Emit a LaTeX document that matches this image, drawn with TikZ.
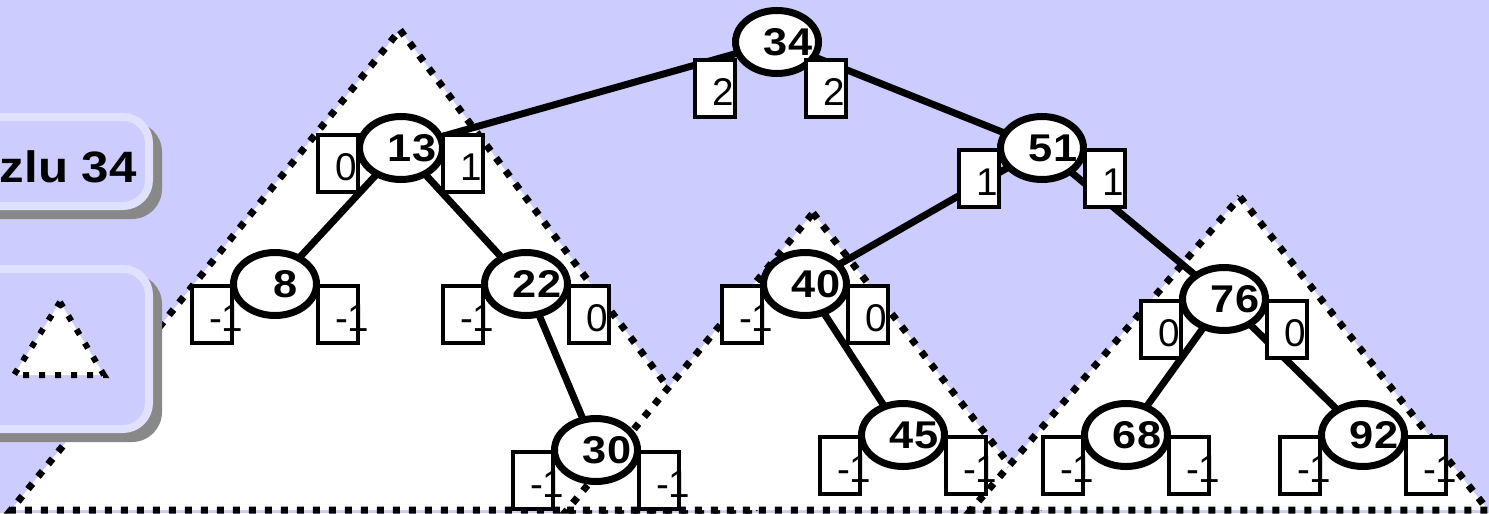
\documentclass[tikz,border=0pt]{standalone}
\usepackage{fontspec}
\setmainfont{Liberation Sans}
\newfontfamily\widesans{Liberation Sans}[FakeStretch=1.12]
\usetikzlibrary{shapes.geometric}

\definecolor{lavender}{HTML}{CCCCFF}
\definecolor{paneledge}{HTML}{E0E0FF}
\definecolor{shadowgray}{HTML}{888888}

\newcommand\keyfont{\widesans\bfseries\fontsize{22pt}{26pt}\selectfont}
\newcommand\balfont{\fontsize{22pt}{26pt}\selectfont}
\newcommand\panelfont{\widesans\bfseries\fontsize{25pt}{30pt}\selectfont}
\newcommand\keytext[1]{\makebox[0pt]{\hspace*{4.4mm}#1}}
\newcommand\baltext[1]{\makebox[8mm][l]{\hspace*{3.4mm}#1}}

\pgfdeclarelayer{background}
\pgfsetlayers{background,main}

\begin{document}
\begin{tikzpicture}[
    x=0.2mm, y=-0.2mm,
    key/.style={ellipse, draw, line width=1.4mm, fill=white, minimum width=16.6mm, minimum height=12.6mm, inner sep=0pt, font=\keyfont},
    balbox/.style={draw, line width=0.8mm, fill=white, minimum width=8mm, minimum height=11.4mm, inner sep=0pt, text height=9.2mm, text depth=2.2mm, font=\balfont},
    link/.style={line width=1.4mm},
    subtree/.style={draw, fill=white, line width=1.4mm, dash pattern=on 1.4mm off 1.8mm},
    minitree/.style={subtree, line width=1.2mm, dash pattern=on 1.2mm off 2mm},
    panel/.style={draw=paneledge, fill=lavender, line width=1.6mm, rounded corners=5.2mm},
    panelshadow/.style={fill=shadowgray, rounded corners=6mm}
]
\useasboundingbox (0,0) rectangle (1489,513);

% Keys of the tree
\node[key] (n34) at (777,42) {\keytext{34}};
\node[key] (n13) at (401,148) {\keytext{13}};
\node[key] (n51) at (1042,148) {\keytext{51}};
\node[key] (n8) at (275,284) {\keytext{8}};
\node[key] (n22) at (526,284) {\keytext{22}};
\node[key] (n40) at (805,284) {\keytext{40}};
\node[key] (n30) at (596,450) {\keytext{30}};
\node[key] (n45) at (903,435) {\keytext{45}};
\node[key] (n76) at (1224,299) {\keytext{76}};
\node[key] (n68) at (1126,435) {\keytext{68}};
\node[key] (n92) at (1363,435) {\keytext{92}};

% Balance boxes
\node[balbox] (b34l) at ([shift={(-62,46)}]n34) {\baltext{2}};
\node[balbox] (b34r) at ([shift={(49,46)}]n34) {\baltext{2}};
\node[balbox] (b13l) at ([shift={(-63,15)}]n13) {\baltext{0}};
\node[balbox] (b13r) at ([shift={(62,15)}]n13) {\baltext{1}};
\foreach \k/\l/\r in {51/1/1, 8/-1/-1, 22/-1/0, 40/-1/0, 30/-1/-1, 45/-1/-1, 76/0/0, 68/-1/-1, 92/-1/-1} {
    \node[balbox] (b\k l) at ([shift={(-63,30)}]n\k) {\baltext{\l}};
    \node[balbox] (b\k r) at ([shift={(63,30)}]n\k) {\baltext{\r}};
}

% Side panels
\node[font=\panelfont, anchor=base east, inner sep=0pt] (title) at (137,182) {zlu 34};

\begin{pgfonlayer}{background}
\fill[lavender] (0,0) rectangle (1489,513);

% Subtrees
\draw[subtree] (400,30) -- (760,510) -- (11,510) -- cycle;
\draw[subtree] (813,213) -- (1045,510) -- (567,510) -- cycle;
\draw[subtree] (1240,197) -- (1488,510) -- (971,510) -- cycle;

\fill[panelshadow] (-55,122) rectangle (162,219);
\draw[panel] (-60,117) rectangle (149,206);
\fill[panelshadow] (-55,274) rectangle (162,442);
\draw[panel] (-60,269) rectangle (149,429);
\draw[minitree] (60,302) -- (104,375) -- (14,375) -- cycle;

% Links between keys
\foreach \a/\b in {34/13, 34/51, 13/8, 13/22, 22/30, 51/40, 51/76, 40/45, 76/68, 76/92} {
    \draw[link] (n\a.center) -- (n\b.center);
}
\end{pgfonlayer}

\end{tikzpicture}
\end{document}
